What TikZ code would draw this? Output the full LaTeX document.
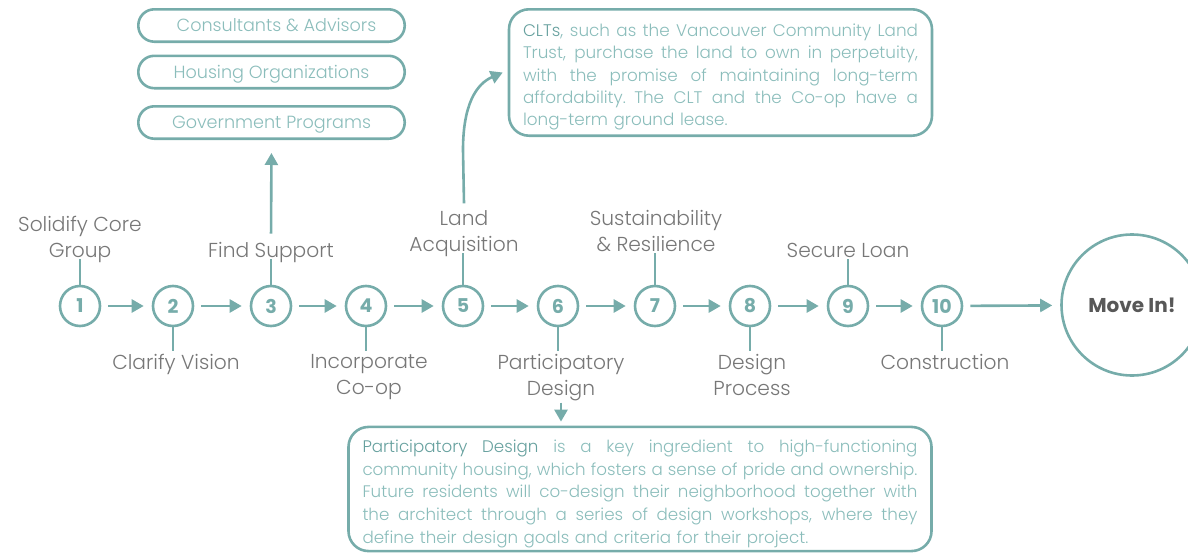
\documentclass[tikz,border=0pt]{standalone}
\usepackage{fontspec}
\setmainfont{Poppins}[UprightFont=* Light, BoldFont=* Bold]
\usetikzlibrary{arrows.meta}
\definecolor{lineteal}{HTML}{76ACAA}
\definecolor{softteal}{HTML}{8BBDBB}
\definecolor{strongteal}{HTML}{66A09E}
\definecolor{labelgray}{HTML}{777777}
\definecolor{movegray}{HTML}{585858}
% one justified line of a note (spaces stretch to fill), and the ragged last line
\newcommand\fullline[2]{\makebox[#1][s]{\spaceskip=\fontdimen2\font plus 4\fontdimen2\font minus .35\fontdimen2\font
  #2}}
\newcommand\lastline[2]{\makebox[#1][l]{#2}}
\begin{document}
\begin{tikzpicture}[x=1pt,y=-1pt,
  conn/.style={draw=lineteal, line width=2.6pt},
  arr/.style={conn, -{Triangle[length=12pt,width=13pt]}},
  stepnode/.style={circle, draw=lineteal, line width=2.6pt, minimum size=40pt,
    inner sep=0pt, text=lineteal, font=\fontsize{19}{19}\bfseries},
  lbl/.style={text=labelgray, align=center, inner sep=0pt,
    font=\fontsize{20.2}{25.5}\selectfont},
  pill/.style={draw=lineteal, line width=2.6pt, rounded corners=16pt,
    minimum width=266.4pt, minimum height=32.4pt, text=softteal,
    text height=12.3pt, text depth=0pt, font=\fontsize{17.6}{17.6}\selectfont},
  infobox/.style={draw=lineteal, line width=2.6pt, rounded corners=20pt,
    text=softteal, align=left, inner xsep=14pt}
]
\useasboundingbox (0,0) rectangle (1188,554);

% support pills
\node[pill] (cons)  at (271.5,25.5)  {\hspace*{10pt}Consultants \& Advisors};
\node[pill] (house) at (271.5,72)    {Housing Organizations};
\node[pill] (gov)   at (271.5,122.5) {Government Programs};

% step circles
\node[stepnode] (c1)  at (80,306)  {1};
\node[stepnode] (c2)  at (173,306) {2};
\node[stepnode] (c3)  at (271,306) {3};
\node[stepnode] (c4)  at (366,306) {4};
\node[stepnode] (c5)  at (463,306) {5};
\node[stepnode] (c6)  at (558,306) {6};
\node[stepnode] (c7)  at (655,306) {7};
\node[stepnode] (c8)  at (750,306) {8};
\node[stepnode] (c9)  at (848,306) {9};
\node[stepnode] (c10) at (942,306) {10};
\node[circle, draw=lineteal, line width=2.6pt, minimum size=141pt, inner sep=0pt,
  text=movegray, font=\fontsize{20}{20}\bfseries] (movein) at (1132,305) {Move In!};

% flow arrows
\foreach \a/\b in {c1/c2,c2/c3,c3/c4,c4/c5,c5/c6,c6/c7,c7/c8,c8/c9,c9/c10}
  \draw[arr, shorten <=7pt, shorten >=8pt] (\a) -- (\b);
\draw[arr, shorten <=7pt, shorten >=8pt] (c10) -- (movein);

% step labels
\node[lbl, anchor=base] (l1)  at (80,257)  {Solidify Core\\Group};
\node[lbl, anchor=base] (l2)  at (176,369) {Clarify Vision};
\node[lbl, anchor=base] (l3)  at (271,257) {Find Support};
\node[lbl, anchor=base] (l4)  at (369,394) {Incorporate\\Co-op};
\node[lbl, anchor=base] (l5)  at (464,251) {Land\\Acquisition};
\node[lbl, anchor=base] (l6)  at (561,395) {Participatory\\Design};
\node[lbl, anchor=base] (l7)  at (656,251) {Sustainability\\\& Resilience};
\node[lbl, anchor=base] (l8)  at (752,395) {Design\\Process};
\node[lbl, anchor=base] (l9)  at (848,257) {Secure Loan};
\node[lbl, anchor=base] (l10) at (945,369) {Construction};

% ticks joining circles to labels
\foreach \c/\l in {c1/l1,c3/l3,c5/l5,c7/l7,c9/l9}
  \draw[conn] (\c.north) -- ([yshift=-2pt]\c.north |- \l.base);
\foreach \c/\l in {c2/l2,c4/l4,c6/l6,c8/l8,c10/l10}
  \draw[conn, shorten >=3pt] (\c.south) -- (\c.south |- \l.north);

% info boxes
\node[infobox, minimum width=422.4pt, minimum height=126.4pt, text width=395pt,
  font=\fontsize{16.8}{22.3}\selectfont] (clt) at (720.5,72.5) {%
  \fullline{395pt}{\rule{0pt}{22pt}{\color{strongteal}CLTs}, such as the Vancouver Community Land}\\
  \fullline{395pt}{Trust, purchase the land to own in perpetuity,}\\
  \fullline{395pt}{with the promise of maintaining long-term}\\
  \fullline{395pt}{affordability. The CLT and the Co-op have a}\\
  \lastline{395pt}{long-term ground lease.}};

\node[infobox, minimum width=581.4pt, minimum height=121.4pt, text width=555pt,
  font=\fontsize{16.7}{22.75}\selectfont] (pd) at (640,489) {%
  \fullline{555pt}{\rule{0pt}{22pt}{\color{strongteal}Participatory Design} is a key ingredient to high-functioning}\\
  \fullline{555pt}{community housing, which fosters a sense of pride and ownership.}\\
  \fullline{555pt}{Future residents will co-design their neighborhood together with}\\
  \fullline{555pt}{the architect through a series of design workshops, where they}\\
  \lastline{555pt}{define their design goals and criteria for their project.}};

% arrows out to the supporting notes
\draw[arr, shorten <=8pt, shorten >=13pt] (l3.north) -- (gov.south);
\draw[arr] ([yshift=7pt]l5.north) -- (463,150)
  .. controls (463,105) and (476,84) .. ([xshift=-5pt]clt.west);
\draw[arr, shorten <=2pt, shorten >=4pt] (l6.south) -- (l6.south |- pd.north);
\end{tikzpicture}
\end{document}
